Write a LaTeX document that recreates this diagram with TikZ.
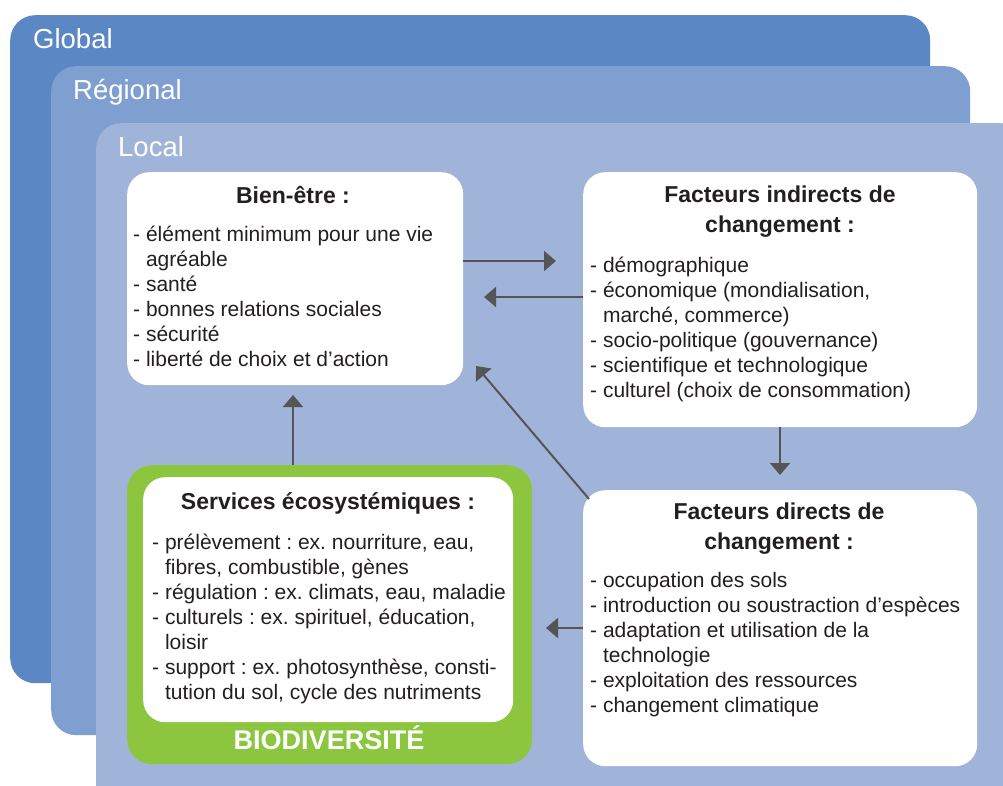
\documentclass[tikz,border=0pt]{standalone}
\usepackage{fontspec}
\setmainfont{Liberation Sans}
\usetikzlibrary{arrows.meta}
\definecolor{cglobal}{RGB}{91,135,196}
\definecolor{cregional}{RGB}{127,159,208}
\definecolor{clocal}{RGB}{160,180,218}
\definecolor{cgreen}{RGB}{140,198,63}
\definecolor{ctext}{RGB}{35,31,32}
\definecolor{carrow}{RGB}{85,85,85}
\newcommand{\myind}{\hphantom{-}\ }
\frenchspacing
\begin{document}
\begin{tikzpicture}[x=1pt,y=-1pt,
  panel/.style={draw=none, inner sep=0pt, anchor=north west},
  lbl/.style={text=white, font=\fontsize{27.5}{30}\selectfont, anchor=base west, inner sep=0pt},
  ttl/.style={font=\bfseries\fontsize{23}{29.5}\selectfont, text=ctext, align=center, anchor=base, inner sep=0pt},
  body/.style={font=\fontsize{21}{25}\selectfont, text=ctext, align=left, anchor=base west, inner sep=0pt},
  arr/.style={draw=carrow, line width=2pt, -{Triangle[length=12pt,width=20pt]}}]
\useasboundingbox (0,0) rectangle (1003,785);
\clip (0,0) rectangle (1003,785);
% scale layers
\node[panel, fill=cglobal, rounded corners=25pt, minimum width=920pt, minimum height=668pt] (global) at (10,15) {};
\node[panel, fill=cregional, rounded corners=25pt, minimum width=919pt, minimum height=669pt] (regional) at (51,66) {};
\node[panel, fill=clocal, rounded corners=25pt, minimum width=930pt, minimum height=690pt] (local) at (96,123) {};
\node[lbl] (tglobal) at (33,48) {Global};
\node[lbl] (tregional) at (73,99) {Régional};
\node[lbl] (tlocal) at (118,156) {Local};
% boxes
\node[panel, fill=white, rounded corners=22pt, minimum width=336pt, minimum height=213pt] (bien) at (127,172) {};
\node[panel, fill=white, rounded corners=22pt, minimum width=394pt, minimum height=255pt] (ind) at (583,172) {};
\node[panel, fill=white, rounded corners=22pt, minimum width=394pt, minimum height=276pt] (dir) at (583,490) {};
\node[panel, fill=cgreen, rounded corners=25pt, minimum width=405pt, minimum height=299pt] (serv) at (127,465) {};
\node[panel, fill=white, rounded corners=22pt, minimum width=370pt, minimum height=245pt] (servin) at (143,477) {};
% texts (multi-line nodes: base = baseline of last line)
\node[ttl] (tbien) at (293,203) {Bien-être :};
\node[body] (bbien) at (133,366) {- élément minimum pour une vie\\\myind agréable\\- santé\\- bonnes relations sociales\\- sécurité\\- liberté de choix et d’action};
\node[ttl] (tind) at (780,232) {Facteurs indirects de\\changement :};
\node[body] (bind) at (590,397) {- démographique\\- économique (mondialisation,\\\myind marché, commerce)\\- socio-politique (gouvernance)\\- scientifique et technologique\\- culturel (choix de consommation)};
\node[ttl] (tdir) at (779,549) {Facteurs directs de\\changement :};
\node[body] (bdir) at (590,712) {- occupation des sols\\- introduction ou soustraction d’espèces\\- adaptation et utilisation de la\\\myind technologie\\- exploitation des ressources\\- changement climatique};
\node[ttl] (tserv) at (328,509) {Services écosystémiques :};
\node[body] (bserv) at (152,699) {- prélèvement : ex. nourriture, eau,\\\myind fibres, combustible, gènes\\- régulation : ex. climats, eau, maladie\\- culturels : ex. spirituel, éducation,\\\myind loisir\\- support : ex. photosynthèse, consti-\\\myind tution du sol, cycle des nutriments};
\node[text=white, font=\bfseries\fontsize{27}{29}\selectfont, anchor=base, inner sep=0pt] (biodiv) at (329,749) {BIODIVERSITÉ};
% arrow ends
\coordinate (t1) at (556,261);
\coordinate (t2) at (484,297);
\coordinate (t3) at (780,475);
\coordinate (t4) at (546,628);
\coordinate (s5) at (589,499);
\coordinate (t5) at (476,366);
\coordinate (t6) at (293,395);
\draw[arr] (bien.east |- t1) -- (t1);
\draw[arr] (ind.west |- t2) -- (t2);
\draw[arr] (ind.south -| t3) -- (t3);
\draw[arr] (dir.west |- t4) -- (t4);
\draw[arr] (s5) -- (t5);
\draw[arr] (serv.north -| t6) -- (t6);
\end{tikzpicture}
\end{document}
